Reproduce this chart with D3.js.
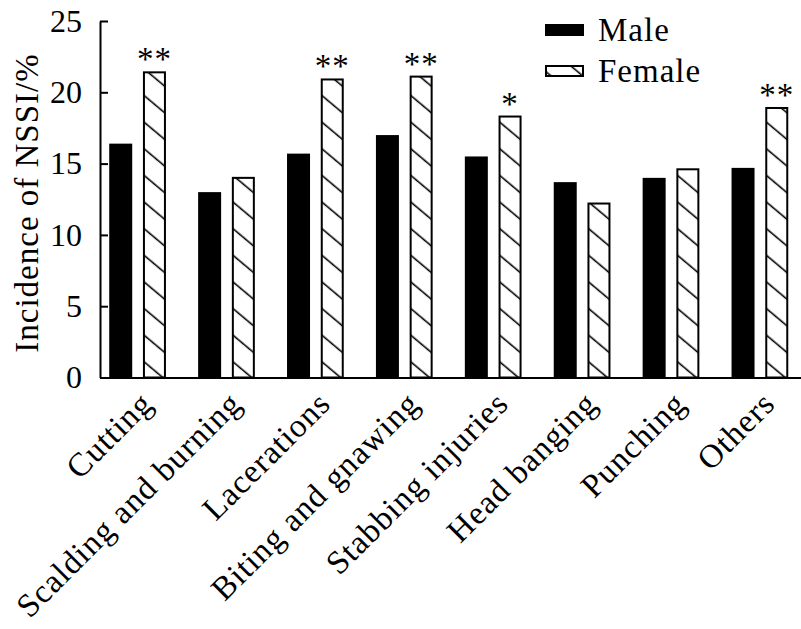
<!DOCTYPE html>
<html>
<head>
<meta charset="utf-8">
<script src="https://cdn.jsdelivr.net/npm/d3@7"></script>
<style>
  html, body { margin: 0; padding: 0; background: #fff; }
  svg { display: block; }
  text { font-family: "Liberation Serif", "Times New Roman", serif; fill: #000; }
</style>
</head>
<body>
<svg id="chart" width="801" height="629"></svg>
<script>
const categories = ["Cutting", "Scalding and burning", "Lacerations", "Biting and gnawing",
                    "Stabbing injuries", "Head banging", "Punching", "Others"];
const seriesNames = ["Male", "Female"];
const maleValues   = [16.4, 13.0, 15.7, 17.0, 15.5, 13.7, 14.0, 14.7];
const femaleValues = [21.4, 14.0, 20.9, 21.1, 18.3, 12.2, 14.6, 18.9];
const significance = ["**", "", "**", "**", "*", "", "", "**"];
const yTicks = [0, 5, 10, 15, 20, 25];
const yLabel = "Incidence of NSSI/%";

const svg = d3.select("#chart");
const mLeft = 100, mRight = 801, mTop = 21, mBottom = 377.5;

const x0 = d3.scaleBand().domain(categories).range([mLeft, mRight])
  .paddingInner(0.362).paddingOuter(0.1235).align(0.42);
const x1 = d3.scaleBand().domain(seriesNames).range([0, x0.bandwidth()]).paddingInner(0.318);
const y = d3.scaleLinear().domain([0, 25]).range([mBottom, mTop]);

// hatch pattern
const defs = svg.append("defs");
const pat = defs.append("pattern").attr("id", "hatch")
  .attr("patternUnits", "userSpaceOnUse")
  .attr("width", 10).attr("height", 20.4)
  .attr("patternTransform", "rotate(40)");
pat.append("rect").attr("width", 10).attr("height", 20.4).attr("fill", "#fff");
pat.append("line").attr("x1", 0).attr("x2", 10).attr("y1", 10).attr("y2", 10)
  .attr("stroke", "#000").attr("stroke-width", 1.6);

const data = categories.map((c, i) => ({cat: c, Male: maleValues[i], Female: femaleValues[i], sig: significance[i]}));

const groups = svg.append("g").selectAll("g").data(data).join("g")
  .attr("transform", d => `translate(${x0(d.cat)},0)`);

groups.append("rect")
  .attr("x", x1("Male")).attr("width", x1.bandwidth())
  .attr("y", d => y(d.Male)).attr("height", d => y(0) - y(d.Male))
  .attr("fill", "#000");

groups.append("rect")
  .attr("x", x1("Female") + 1).attr("width", x1.bandwidth() - 2)
  .attr("y", d => y(d.Female)).attr("height", d => y(0) - y(d.Female))
  .attr("fill", "url(#hatch)").attr("stroke", "#000").attr("stroke-width", 2);

groups.append("text")
  .attr("x", x1("Female") + x1.bandwidth() / 2)
  .attr("y", d => y(d.Female) - 2)
  .attr("text-anchor", "middle")
  .attr("font-size", 33)
  .attr("letter-spacing", 1)
  .text(d => d.sig);

// y axis
const yAxis = d3.axisLeft(y).tickValues(yTicks).tickSizeInner(-8).tickSizeOuter(0).tickPadding(18);
const gy = svg.append("g").attr("transform", `translate(${mLeft},0)`).call(yAxis);
gy.select(".domain").attr("stroke", "#000").attr("stroke-width", 2);
gy.selectAll(".tick line").attr("stroke", "#000").attr("stroke-width", 2);
gy.selectAll(".tick text").attr("font-size", 32).attr("font-family", "Liberation Serif").attr("fill", "#000");

// x axis
const xAxis = d3.axisBottom(x0).tickSize(0).tickSizeOuter(0).tickFormat("");
const gx = svg.append("g").attr("transform", `translate(0,${mBottom})`).call(xAxis);
gx.select(".domain").attr("stroke", "#000").attr("stroke-width", 2);

// x labels
svg.append("g").selectAll("text").data(categories).join("text")
  .attr("transform", d => `translate(${x0(d) + x0.bandwidth() / 2 + 17},${mBottom + 28}) rotate(-45)`)
  .attr("text-anchor", "end")
  .attr("font-size", 33)
  .attr("letter-spacing", 1)
  .text(d => d);

// y label
svg.append("text")
  .attr("transform", `translate(38,${203}) rotate(-90)`)
  .attr("text-anchor", "middle")
  .attr("font-size", 33)
  .attr("letter-spacing", 1)
  .text(yLabel);

// legend
const legend = svg.append("g");
seriesNames.forEach((s, i) => {
  const ly = 25 + i * 41;
  legend.append("rect").attr("x", 546).attr("y", ly).attr("width", 37).attr("height", 10)
    .attr("fill", s === "Male" ? "#000" : "url(#hatch)")
    .attr("stroke", "#000").attr("stroke-width", 2);
  legend.append("text").attr("x", 598).attr("y", ly + 16)
    .attr("font-size", 33).attr("letter-spacing", 1).text(s);
});
</script>
</body>
</html>
